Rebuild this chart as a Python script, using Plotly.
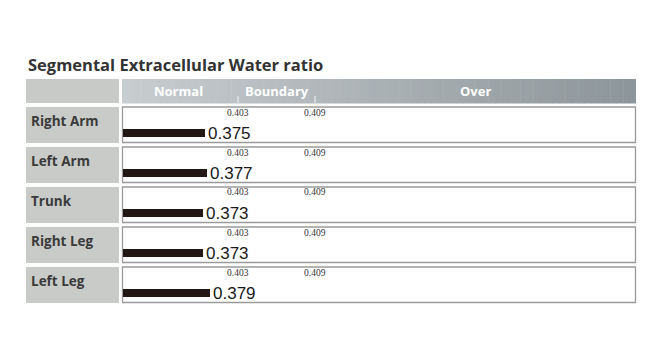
import numpy as np
import plotly.graph_objects as go

# ---- data ----
segments = ["Right Arm", "Left Arm", "Trunk", "Right Leg", "Left Leg"]
ecw_ratio = [0.375, 0.377, 0.373, 0.373, 0.379]
value_labels = ["0.375", "0.377", "0.373", "0.373", "0.379"]
zone_names = ["Normal", "Boundary", "Over"]
threshold_values = [0.403, 0.409]
threshold_labels = ["0.403", "0.409"]
# piecewise scale (value -> axis position)
scale_values = [0.305, 0.403, 0.409, 0.450]
scale_positions = [0.0, 115.0, 192.0, 513.0]

OFF = 8          # page body margin
W, H = 644, 344  # figure size


def px(x):
    return (x - OFF) / W


def py(y):
    return 1 - (y - OFF) / H


def pos(v):
    return float(np.interp(v, scale_values, scale_positions))


fig = go.Figure()

bar_x = [pos(v) for v in ecw_ratio]
fig.add_trace(go.Bar(
    x=bar_x, y=segments, orientation="h",
    marker=dict(color="#231815", line=dict(width=0)),
    width=0.2, offset=0.05,
    text=value_labels, textposition="outside", constraintext="none",
    textfont=dict(family="Liberation Sans, Arial", size=17, color="#1a1a1a"),
    cliponaxis=False,
    hoverinfo="skip", showlegend=False,
))

shapes = []
annotations = []

# title
annotations.append(dict(
    x=px(26), y=py(65), xref="paper", yref="paper", xanchor="left", yanchor="middle",
    text="<b>Segmental Extracellular Water ratio</b>", showarrow=False,
    font=dict(family="Open Sans", size=16.5, color="#333333"),
))

# header left cell
shapes.append(dict(type="rect", xref="paper", yref="paper",
                   x0=px(26), x1=px(119), y0=py(103), y1=py(79),
                   fillcolor="#c8cac8", line=dict(width=0), layer="below"))
# header gradient
n = 80
x_start, x_end = 122, 636
c0 = np.array([0xc8, 0xcd, 0xd0])
c1 = np.array([0x8d, 0x96, 0x9a])
for i in range(n):
    t = i / (n - 1)
    c = (c0 + (c1 - c0) * t).astype(int)
    xa = x_start + (x_end - x_start) * i / n
    xb = x_start + (x_end - x_start) * (i + 1) / n + 0.5
    shapes.append(dict(type="rect", xref="paper", yref="paper",
                       x0=px(xa), x1=px(min(xb, x_end)), y0=py(103.5), y1=py(79),
                       fillcolor="rgb(%d,%d,%d)" % tuple(c), line=dict(width=0), layer="below"))

# zone labels in header
zone_centers = [56.0,
                (scale_positions[1] + scale_positions[2]) / 2,
                (scale_positions[2] + scale_positions[3]) / 2]
for name, c in zip(zone_names, zone_centers):
    annotations.append(dict(
        x=px(123 + c), y=py(91), xref="paper", yref="paper",
        xanchor="center", yanchor="middle", text="<b>%s</b>" % name, showarrow=False,
        font=dict(family="Open Sans", size=13, color="#ffffff"),
    ))
# header tick marks
for v in threshold_values:
    xx = 123 + pos(v)
    shapes.append(dict(type="line", xref="paper", yref="paper",
                       x0=px(xx), x1=px(xx), y0=py(103), y1=py(96),
                       line=dict(color="#f4f4f4", width=1)))

# rows
for i, seg in enumerate(segments):
    top = 107 + 40 * i
    bot = top + 35.5
    shapes.append(dict(type="rect", xref="paper", yref="paper",
                       x0=px(26), x1=px(119), y0=py(bot + 0.5), y1=py(top),
                       fillcolor="#c9cbc8", line=dict(width=0), layer="below"))
    shapes.append(dict(type="rect", xref="paper", yref="paper",
                       x0=px(122.5), x1=px(635.5), y0=py(bot), y1=py(top),
                       fillcolor="#ffffff", line=dict(color="#9a9a9a", width=1.3), layer="below"))
    annotations.append(dict(
        x=px(29), y=py(top + 14), xref="paper", yref="paper", xanchor="left", yanchor="middle",
        text="<b>%s</b>" % seg, showarrow=False,
        font=dict(family="Open Sans", size=13.5, color="#3a3a3a"),
    ))
    for v, lab in zip(threshold_values, threshold_labels):
        annotations.append(dict(
            x=px(123 + pos(v)), y=py(top + 5.5), xref="paper", yref="paper",
            xanchor="center", yanchor="middle", text=lab, showarrow=False,
            font=dict(family="Liberation Serif", size=9.5, color="#333333"),
        ))

fig.update_layout(
    width=W, height=H,
    margin=dict(l=0, r=0, t=0, b=0),
    paper_bgcolor="#ffffff", plot_bgcolor="rgba(0,0,0,0)",
    shapes=shapes, annotations=annotations,
    xaxis=dict(domain=[px(123), px(636)], range=[0, 513], visible=False, fixedrange=True),
    yaxis=dict(domain=[py(307), py(107)], range=[4.5, -0.5], type="category",
               categoryorder="array", categoryarray=segments, visible=False, fixedrange=True),
    bargap=0,
)

fig.write_html("out.html")
